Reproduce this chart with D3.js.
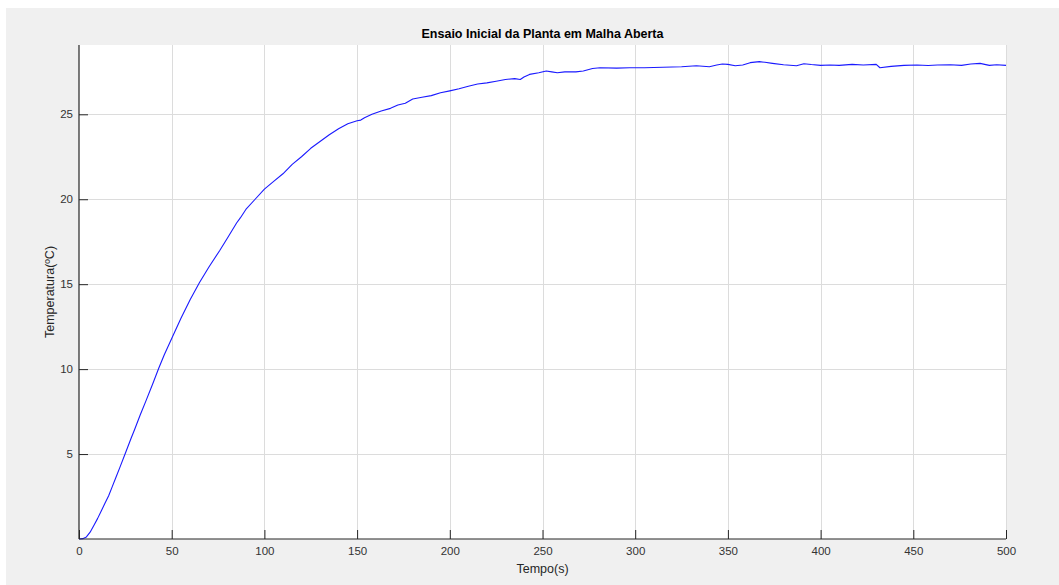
<!DOCTYPE html>
<html>
<head>
<meta charset="utf-8">
<script src="https://cdn.jsdelivr.net/npm/d3@7"></script>
<style>
  html, body { margin: 0; padding: 0; background: #ffffff; }
  svg { display: block; }
  text { font-family: "Liberation Sans", Arial, Helvetica, sans-serif; }
</style>
</head>
<body>
<svg id="chart" width="1059" height="585"></svg>
<script>
// Open-loop plant test: temperature response over time
const title = "Ensaio Inicial da Planta em Malha Aberta";
const xLabel = "Tempo(s)";
const yLabel = "Temperatura(ºC)";

const xTicks = [0, 50, 100, 150, 200, 250, 300, 350, 400, 450, 500];
const yTicks = [5, 10, 15, 20, 25];

const timeSec = [
  0, 2, 4, 6, 8, 10, 12, 14, 16, 18, 20, 22, 25, 28, 30, 33, 36, 40, 43, 46,
  50, 55, 60, 65, 70, 76, 80, 85, 87, 90, 95, 100, 105, 110, 115, 120, 125, 130, 135, 140,
  145, 150, 152, 154, 158, 163, 168, 172, 176, 180, 185, 190, 195, 200, 205, 210, 215, 220, 225, 230,
  235, 238, 240, 243, 248, 252, 255, 258, 262, 268, 272, 277, 281, 290, 297, 305, 315, 325, 333, 340,
  344, 347, 350, 354, 358, 362, 367, 370, 374, 380, 387, 391, 395, 400, 405, 410, 417, 423, 430, 432,
  438, 445, 452, 458, 463, 470, 476, 481, 486, 491, 495, 500
];
const tempC = [
  0.0, 0.02, 0.12, 0.4, 0.8, 1.2, 1.65, 2.1, 2.55, 3.1, 3.65, 4.2, 5.05, 5.9, 6.45, 7.3, 8.1, 9.2, 10.05, 10.85,
  11.8, 13.0, 14.1, 15.1, 16.0, 17.0, 17.7, 18.6, 18.9, 19.4, 20.0, 20.6, 21.05, 21.5, 22.05, 22.5, 23.0, 23.4, 23.8, 24.15,
  24.45, 24.62, 24.66, 24.8, 25.0, 25.2, 25.35, 25.55, 25.65, 25.9, 26.0, 26.1, 26.27, 26.38, 26.5, 26.65, 26.78, 26.85, 26.95, 27.05,
  27.1, 27.05, 27.2, 27.35, 27.45, 27.55, 27.5, 27.45, 27.5, 27.5, 27.55, 27.7, 27.74, 27.72, 27.74, 27.74, 27.77, 27.8, 27.86, 27.8,
  27.9, 27.96, 27.94, 27.86, 27.9, 28.04, 28.1, 28.06, 28.0, 27.92, 27.86, 27.98, 27.93, 27.88, 27.9, 27.88, 27.94, 27.9, 27.94, 27.74,
  27.82, 27.88, 27.9, 27.87, 27.9, 27.92, 27.88, 27.96, 28.0, 27.88, 27.92, 27.88
];

const W = 1059, H = 585;
const plot = { left: 79, right: 1006, top: 45, bottom: 539 };

const svg = d3.select("#chart");

// Figure background
svg.append("rect")
  .attr("x", 6).attr("y", 8)
  .attr("width", W - 6).attr("height", H - 8)
  .attr("fill", "#f0f0f0");

// Axes background
svg.append("rect")
  .attr("x", plot.left).attr("y", plot.top)
  .attr("width", plot.right - plot.left).attr("height", plot.bottom - plot.top)
  .attr("fill", "#ffffff");

const x = d3.scaleLinear().domain([0, 500]).range([plot.left, plot.right]);
const y = d3.scaleLinear().domain([0, 29.08]).range([plot.bottom, plot.top]);

// Grid lines
const grid = svg.append("g").attr("stroke", "#dcdcdc").attr("stroke-width", 1);
grid.selectAll("line.gx").data(xTicks.slice(1)).join("line")
  .attr("x1", d => Math.round(x(d)) + 0.5).attr("x2", d => Math.round(x(d)) + 0.5)
  .attr("y1", plot.top).attr("y2", plot.bottom);
grid.selectAll("line.gy").data(yTicks).join("line")
  .attr("x1", plot.left).attr("x2", plot.right)
  .attr("y1", d => Math.round(y(d)) + 0.5).attr("y2", d => Math.round(y(d)) + 0.5);

// Data line
const data = timeSec.map((t, i) => [t, tempC[i]]);
svg.append("path")
  .datum(data)
  .attr("fill", "none")
  .attr("stroke", "#1a1aff")
  .attr("stroke-width", 1.1)
  .attr("stroke-linejoin", "round")
  .attr("d", d3.line().x(d => x(d[0])).y(d => y(d[1])));

// Axes (inward ticks, MATLAB style)
const axisColor = "#262626";
const xAxis = d3.axisBottom(x).tickValues(xTicks).tickSize(-9).tickFormat(d3.format("d"));
const gx = svg.append("g").attr("transform", `translate(0,${plot.bottom})`).call(xAxis);
const yAxis = d3.axisLeft(y).tickValues(yTicks).tickSize(-9).tickFormat(d3.format("d"));
const gy = svg.append("g").attr("transform", `translate(${plot.left},0)`).call(yAxis);

[gx, gy].forEach(g => {
  g.select(".domain").attr("stroke", axisColor).attr("stroke-width", 1.2);
  g.selectAll(".tick line").attr("stroke", axisColor);
  g.selectAll(".tick text")
    .attr("fill", "#333333")
    .style("font-size", "11.5px")
    .style("font-family", "\"Liberation Sans\", Arial, sans-serif");
});
gy.select(".domain").attr("d", `M0,${plot.bottom}V${plot.top}`);
gx.select(".domain").attr("d", `M${plot.left},0H${plot.right}`);

// Tick label placement
gx.selectAll(".tick text").attr("y", 8).attr("dy", "0.71em").attr("text-anchor", "middle");
gy.selectAll(".tick text").attr("x", -6).attr("dy", "0.32em").attr("text-anchor", "end");

// Title and axis labels
svg.append("text")
  .attr("x", (plot.left + plot.right) / 2).attr("y", 38)
  .attr("text-anchor", "middle")
  .attr("font-weight", "bold")
  .attr("font-size", "12.5px")
  .attr("fill", "#000000")
  .text(title);

svg.append("text")
  .attr("x", (plot.left + plot.right) / 2).attr("y", 573)
  .attr("text-anchor", "middle")
  .attr("font-size", "12.5px")
  .attr("fill", "#262626")
  .text(xLabel);

svg.append("text")
  .attr("transform", `translate(54,${(plot.top + plot.bottom) / 2}) rotate(-90)`)
  .attr("text-anchor", "middle")
  .attr("font-size", "12.5px")
  .attr("fill", "#262626")
  .text(yLabel);
</script>
</body>
</html>
